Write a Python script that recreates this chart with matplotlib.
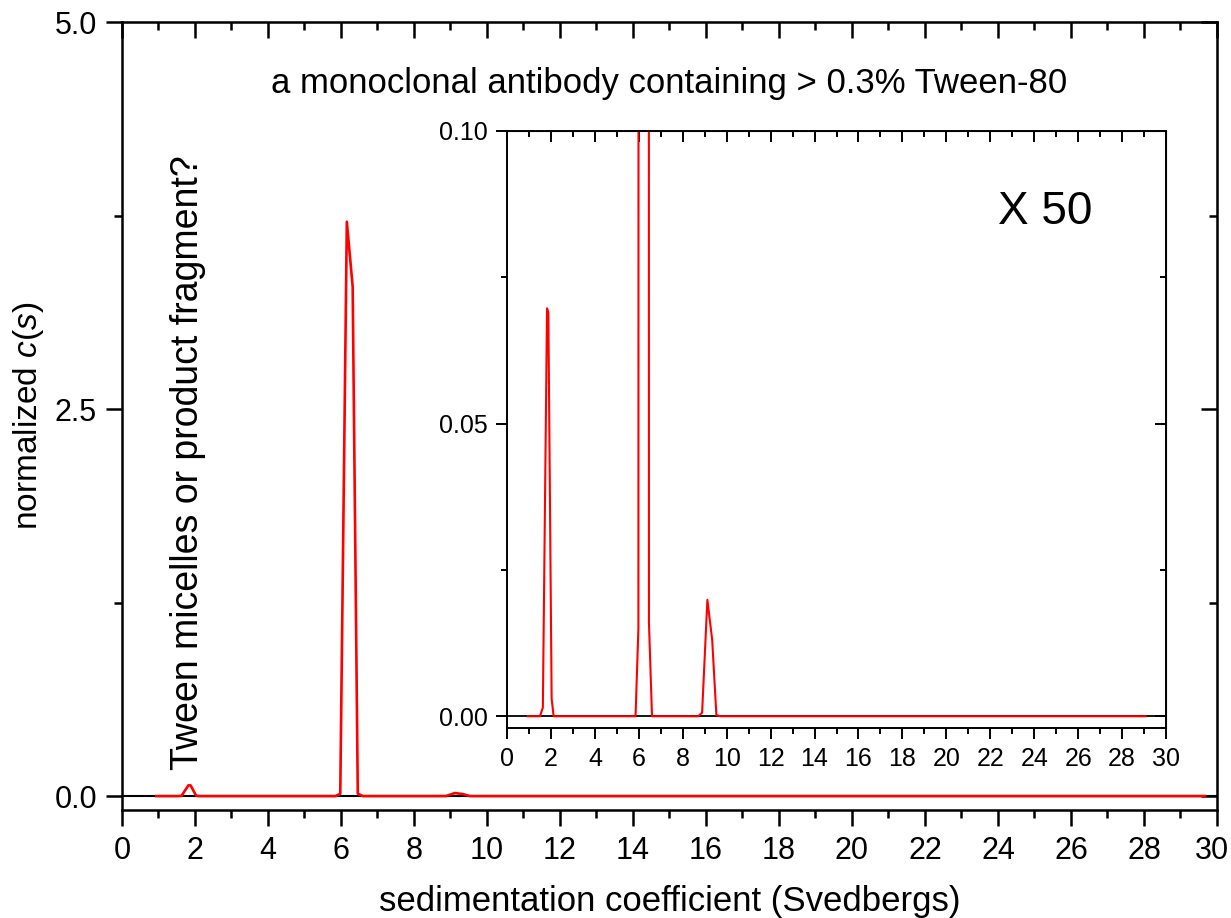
import numpy as np
import matplotlib
matplotlib.use("Agg")
from matplotlib import pyplot as plt
from matplotlib.ticker import MultipleLocator
from matplotlib.transforms import ScaledTranslation

plt.rcParams["font.family"] = ["Liberation Sans", "DejaVu Sans"]
plt.rcParams["mathtext.fontset"] = "custom"
plt.rcParams["mathtext.rm"] = "Liberation Sans"
plt.rcParams["mathtext.it"] = "Liberation Sans:italic"

# c(s) distribution (sedimentation coefficient, normalized c(s))
s_vals = [0.94, 1.50, 1.63, 1.82, 1.88, 2.03, 2.12,
          5.85, 5.98, 6.16, 6.32, 6.46, 6.60,
          8.70, 8.88, 9.12, 9.34, 9.53, 9.70]
c_vals = [0.0, 0.0, 0.0015, 0.0697, 0.069, 0.003, 0.0,
          0.0, 0.015, 3.71, 3.29, 0.016, 0.0,
          0.0, 0.0006, 0.0199, 0.013, 0.0002, 0.0]
s_end_main = 29.67   # last grid point, main plot
s_end_inset = 29.07  # last grid point, inset

main_yticks = [0.0, 2.5, 5.0]
inset_yticks = [0.00, 0.05, 0.10]

fig = plt.figure(figsize=(12.31, 9.18), dpi=100)

# main axes
ax = fig.add_axes([0.0991, 0.1176, 0.8895, 0.8584])
ax.axhline(0, color='black', lw=1.5, zorder=1)
ax.plot(s_vals + [s_end_main], c_vals + [0.0], color='red', lw=1.9, zorder=2)
ax.set_xlim(0, 30)
ax.set_ylim(-0.09, 5.0)
ax.xaxis.set_major_locator(MultipleLocator(2))
ax.xaxis.set_minor_locator(MultipleLocator(1))
ax.set_yticks(main_yticks)
ax.set_yticklabels(['0.0', '2.5', '5.0'])
ax.yaxis.set_minor_locator(MultipleLocator(1.25))
for sp in ax.spines.values():
    sp.set_linewidth(1.8)
ax.tick_params(which='both', direction='out', width=1.8, labelsize=22, top=False, right=False)
ax.tick_params(which='major', length=11.5)
ax.tick_params(which='minor', length=6)
ax.tick_params(axis='x', pad=7)
ax.tick_params(axis='y', pad=6.5)
# top and right ticks pointing inward
axt = ax.secondary_xaxis('top')
axt.xaxis.set_major_locator(MultipleLocator(2))
axt.xaxis.set_minor_locator(MultipleLocator(1))
axt.tick_params(which='both', direction='in', width=1.8, labeltop=False)
axt.tick_params(which='major', length=11.5)
axt.tick_params(which='minor', length=6)
axr = ax.secondary_yaxis('right')
axr.set_yticks(main_yticks)
axr.yaxis.set_minor_locator(MultipleLocator(1.25))
axr.tick_params(which='both', direction='in', width=1.8, labelright=False)
axr.tick_params(which='major', length=11.5)
axr.tick_params(which='minor', length=6)

ax.set_xlabel('sedimentation coefficient (Svedbergs)', fontsize=25, va='baseline')
ax.xaxis.set_label_coords(0.5, -0.1285)
ax.set_ylabel('normalized $c$($s$)', fontsize=24)
ax.yaxis.set_label_coords(-0.069, 0.5)
ax.text(15, 4.6, 'a monoclonal antibody containing > 0.3% Tween-80',
        fontsize=25, ha='center', va='center')
ax.text(1.8, 0.17, 'Tween micelles or product fragment?', fontsize=27,
        rotation=90, ha='center', va='bottom')

# keep the last x tick label ("30") inside the figure edge
fig.canvas.draw()
last_lbl = [t for t in ax.get_xticklabels() if t.get_text() == '30']
for t in last_lbl:
    t.set_transform(t.get_transform() + ScaledTranslation(-5 / 100, 0, fig.dpi_scale_trans))

# inset, same data magnified
ins = fig.add_axes([0.4119, 0.2070, 0.5353, 0.6503])
ins.axhline(0, color='black', lw=1.3, zorder=1)
ins.plot(s_vals + [s_end_inset], c_vals + [0.0], color='red', lw=1.5, zorder=2)
ins.set_xlim(0, 30)
ins.set_ylim(-0.002, 0.10)
ins.xaxis.set_major_locator(MultipleLocator(2))
ins.xaxis.set_minor_locator(MultipleLocator(1))
ins.set_yticks(inset_yticks)
ins.set_yticklabels(['0.00', '0.05', '0.10'])
ins.yaxis.set_minor_locator(MultipleLocator(0.025))
for sp in ins.spines.values():
    sp.set_linewidth(1.4)
ins.tick_params(which='both', direction='out', width=1.4, labelsize=18, top=False, right=False)
ins.tick_params(which='major', length=8)
ins.tick_params(which='minor', length=4.5)
ins.tick_params(axis='x', pad=6)
ins.tick_params(axis='y', pad=6)
inst = ins.secondary_xaxis('top')
inst.xaxis.set_major_locator(MultipleLocator(2))
inst.xaxis.set_minor_locator(MultipleLocator(1))
inst.tick_params(which='both', direction='in', width=1.4, labeltop=False)
inst.tick_params(which='major', length=8)
inst.tick_params(which='minor', length=4.5)
insr = ins.secondary_yaxis('right')
insr.set_yticks(inset_yticks)
insr.yaxis.set_minor_locator(MultipleLocator(0.025))
insr.tick_params(which='both', direction='in', width=1.4, labelright=False)
insr.tick_params(which='major', length=8)
insr.tick_params(which='minor', length=4.5)
ins.text(24.5, 0.0862, 'X 50', fontsize=33, ha='center', va='center')

fig.savefig('out.png', dpi=100)
